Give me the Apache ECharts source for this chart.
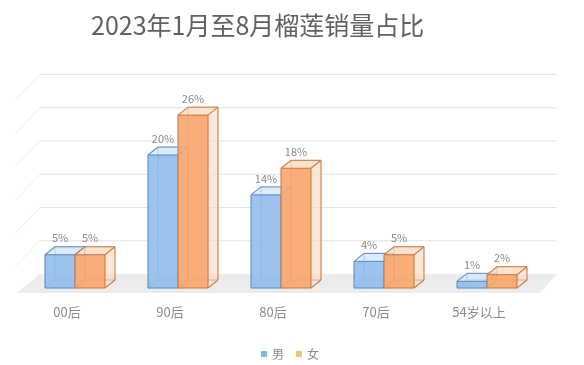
<!DOCTYPE html>
<html><head><meta charset="utf-8">
<script src="https://cdn.jsdelivr.net/npm/echarts@6/dist/echarts.min.js"></script>
<style>html,body{margin:0;padding:0;background:#fff}#c{width:584px;height:365px}</style>
</head><body><div id="c"></div>
<script>
var categories = ['00后', '90后', '80后', '70后', '54岁以上'];
var maleValues = [5, 20, 14, 4, 1];
var femaleValues = [5, 26, 18, 5, 2];
var gridTicks = [0, 5, 10, 15, 20, 25, 30];
var seriesNames = ['男', '女'];

var FONT = '"Noto Sans CJK SC", "Noto Sans", sans-serif';
var BAR_W = 30, DX = 10, DY = -8;     // box depth
var WDX = 16.5, WDY = -14;            // back wall offset
var palette = [
  {front: 'rgba(145,190,236,0.9)', side: 'rgba(200,222,246,0.5)', top: 'rgba(212,230,248,0.7)', back: 'rgba(205,225,247,0.3)', edge: '#5f8fc6'},
  {front: 'rgba(248,166,108,0.9)', side: 'rgba(250,218,196,0.5)', top: 'rgba(251,220,196,0.75)', back: 'rgba(250,222,204,0.3)', edge: '#c97c46'}
];

function boxRenderer(sIdx) {
  return function (params, api) {
    var c = palette[sIdx];
    var idx = api.value(0), v = api.value(1);
    var top = api.coord([idx, v]);
    var base = api.coord([idx, 0]);
    var x0 = sIdx === 0 ? top[0] - BAR_W : top[0];
    var x1 = x0 + BAR_W;
    var yT = top[1], yB = base[1];
    var F = {tl: [x0, yT], tr: [x1, yT], bl: [x0, yB], br: [x1, yB]};
    var B = {tl: [x0 + DX, yT + DY], tr: [x1 + DX, yT + DY], bl: [x0 + DX, yB + DY], br: [x1 + DX, yB + DY]};
    function poly(pts, fill) { return {type: 'polygon', shape: {points: pts}, style: {fill: fill, stroke: null}}; }
    function line(a, b, w, col) { return {type: 'line', shape: {x1: a[0], y1: a[1], x2: b[0], y2: b[1]}, style: {stroke: col || c.edge, lineWidth: w || 1.1}}; }
    var ch = [];
    ch.push(poly([B.tl, B.tr, B.br, B.bl], c.back));
    ch.push(line(B.tl, B.bl, 1)); ch.push(line(B.bl, B.br, 1)); ch.push(line(F.bl, B.bl, 1));
    ch.push(poly([F.tr, B.tr, B.br, F.br], c.side));
    ch.push(poly([F.tl, F.tr, B.tr, B.tl], c.top));
    ch.push(poly([F.tl, F.tr, F.br, F.bl], c.front));
    ch.push(line(F.tl, F.tr)); ch.push(line(F.tr, F.br)); ch.push(line(F.br, F.bl)); ch.push(line(F.bl, F.tl));
    ch.push(line(F.tl, B.tl)); ch.push(line(F.tr, B.tr)); ch.push(line(B.tl, B.tr));
    ch.push(line(B.tr, B.br)); ch.push(line(F.br, B.br));
    ch.push({type: 'text', style: {text: v + '%', x: (x0 + x1) / 2, y: yT + DY - 3, align: 'center', verticalAlign: 'bottom',
      fill: '#8a8a8a', font: '11px ' + FONT}});
    return {type: 'group', children: ch};
  };
}

function wallRenderer(params, api) {
  var cs = params.coordSys;
  var v = api.value(0);
  var y = api.coord([0, v])[1];
  var lx = cs.x + WDX, rx = cs.x + cs.width + WDX + 2;
  if (v === 0) {
    return {type: 'polygon', shape: {points: [[lx, y + WDY], [rx, y + WDY], [rx - 17, y + 5], [cs.x - 7, y + 5]]},
      style: {fill: '#ececec'}, z2: 0};
  }
  return {type: 'group', children: [
    {type: 'line', shape: {x1: lx, y1: y + WDY, x2: rx, y2: y + WDY}, style: {stroke: '#e3e3e3', lineWidth: 1}},
    {type: 'line', shape: {x1: lx, y1: y + WDY, x2: lx - 24, y2: y + WDY + 25}, style: {stroke: '#ededed', lineWidth: 1}}
  ]};
}

var chart = echarts.init(document.getElementById('c'), null, {renderer: 'canvas'});
chart.setOption({
  backgroundColor: '#fff',
  animation: false,
  title: {text: '2023年1月至8月榴莲销量占比', left: 86, top: 8,
    textStyle: {color: '#606060', fontSize: 25, fontWeight: 'normal', fontFamily: FONT}},
  legend: {data: seriesNames, left: 256, top: 343, itemWidth: 6, itemHeight: 6, itemGap: 12, icon: 'rect',
    textStyle: {color: '#8a8a8a', fontSize: 12, fontFamily: FONT}},
  grid: {left: 23.5, right: 45.5, top: 88.5, bottom: 77},
  xAxis: {type: 'category', data: categories, axisLine: {show: false}, axisTick: {show: false},
    axisLabel: {color: '#8a8a8a', fontSize: 13, fontFamily: FONT, margin: 18, padding: [0, 16, 0, 0]}},
  yAxis: {type: 'value', min: 0, max: 30, interval: 5, show: false},
  series: [
    {type: 'custom', name: '_wall', renderItem: wallRenderer, data: gridTicks.map(function (t) { return [t]; }),
      encode: {y: 0}, z: 0, silent: true},
    {type: 'custom', name: seriesNames[0], renderItem: boxRenderer(0), itemStyle: {color: '#79bde2'},
      data: maleValues.map(function (v, i) { return [i, v]; }), encode: {x: 0, y: 1}, z: 2},
    {type: 'custom', name: seriesNames[1], renderItem: boxRenderer(1), itemStyle: {color: '#f3c27a'},
      data: femaleValues.map(function (v, i) { return [i, v]; }), encode: {x: 0, y: 1}, z: 3}
  ]
});
</script></body></html>
